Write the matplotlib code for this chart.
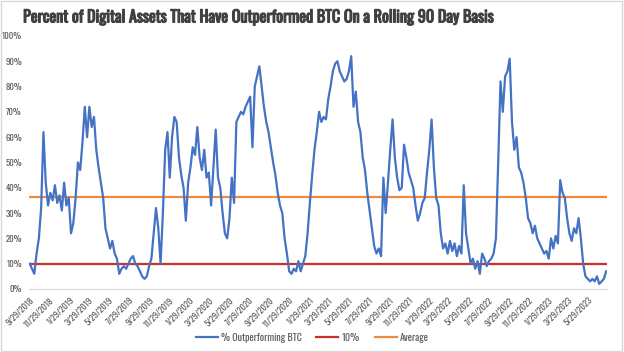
import pandas as pd
import matplotlib.pyplot as plt
import matplotlib.patheffects as pe
from matplotlib.lines import Line2D
from matplotlib.patches import Rectangle

# Weekly readings of the share of assets beating BTC (%), starting 9/29/2018
start_date = '2018-09-29'
pct_outperforming = [
    10, 8, 6, 14, 20, 32, 62, 42, 33, 38, 35, 41, 34, 37, 31, 42, 33, 36, 22, 26,
    36, 50, 47, 58, 72, 60, 72, 64, 68, 55, 48, 42, 36, 24, 20, 16, 19, 14, 12, 6,
    8, 9, 8, 10, 12, 13, 10, 9, 7, 5, 4, 5, 9, 12, 22, 32, 24, 10, 30, 55,
    62, 44, 60, 68, 66, 52, 45, 40, 27, 42, 48, 56, 53, 64, 52, 47, 55, 44, 46, 33,
    48, 63, 44, 40, 30, 22, 20, 28, 44, 34, 66, 68, 70, 69, 72, 74, 76, 56, 80, 84,
    88, 80, 72, 66, 62, 56, 50, 45, 38, 33, 30, 20, 14, 7, 6, 8, 7, 11, 7, 10,
    13, 22, 34, 45, 55, 62, 70, 66, 68, 67, 75, 80, 86, 89, 90, 86, 84, 82, 83, 86,
    92, 72, 78, 66, 62, 52, 47, 38, 31, 24, 17, 14, 16, 13, 44, 30, 42, 55, 67, 52,
    44, 39, 40, 57, 52, 46, 43, 40, 33, 27, 30, 34, 36, 46, 55, 67, 48, 36, 33, 22,
    16, 18, 14, 19, 15, 18, 13, 17, 14, 41, 22, 16, 10, 12, 8, 11, 6, 14, 12, 9,
    11, 12, 14, 20, 50, 82, 70, 84, 86, 91, 66, 55, 60, 48, 46, 42, 36, 28, 26, 22,
    25, 20, 18, 16, 14, 15, 12, 20, 16, 21, 18, 43, 38, 36, 28, 22, 19, 24, 22, 28,
    20, 10, 5, 4, 3, 4, 3, 5, 2, 3, 4, 7,
]
threshold_pct = 10
average_pct = 36.5

dates = pd.date_range(start=start_date, periods=len(pct_outperforming), freq='7D')
tick_dates = pd.date_range(start='2018-09-01', end='2023-05-01', freq='2MS') + pd.Timedelta(days=28)
tick_labels = [f"{d.month}/{d.day}/{d.year}" for d in tick_dates]

blue = '#4472C4'
red = '#C9302C'
orange = '#F08A3A'
text_gray = '#595959'
font = 'Oswald'

fig = plt.figure(figsize=(6.24, 3.52), dpi=100)
ax = fig.add_axes([0.0465, 0.179, 0.927, 0.719])

ax.plot(dates, pct_outperforming, color=blue, linewidth=1.6, label='% Outperforming BTC', zorder=3)
ax.axhline(threshold_pct, color=red, linewidth=1.6, label='10%', zorder=2)
ax.axhline(average_pct, color=orange, linewidth=1.6, label='Average', zorder=2)

ax.set_ylim(0, 100)
ax.set_yticks(range(0, 101, 10))
ax.set_yticklabels([f"{v}%" for v in range(0, 101, 10)], fontsize=6.3, color=text_gray, family=font)
ax.set_xlim(dates[0] - pd.Timedelta(days=2), dates[-1] + pd.Timedelta(days=4))
ax.set_xticks(tick_dates)
ax.set_xticklabels(tick_labels, rotation=45, ha='right', rotation_mode='anchor',
                   fontsize=6.3, color=text_gray, family=font)
ax.tick_params(axis='both', length=0, pad=5)

for side in ['top', 'right', 'left']:
    ax.spines[side].set_visible(False)
ax.spines['bottom'].set_color('#D9D9D9')

# Oswald here has only one weight, so a thin stroke stands in for bold
fig.text(0.037, 0.952, 'Percent of Digital Assets That Have Outperformed BTC On a Rolling 90 Day Basis',
         fontsize=11.6, color='#404040', family=font, va='center',
         path_effects=[pe.withStroke(linewidth=0.8, foreground='#404040')])

handles = [Line2D([], [], color=c, linewidth=1.6) for c in (blue, red, orange)]
fig.legend(handles, ['% Outperforming BTC', '10%', 'Average'], loc='center',
           bbox_to_anchor=(0.5, 0.04), ncol=3, frameon=False, handlelength=2.2,
           columnspacing=1.5, handletextpad=0.3, prop={'family': font, 'size': 7.2},
           labelcolor=text_gray)

fig.patches.append(Rectangle((0.002, 0.003), 0.995, 0.994, transform=fig.transFigure,
                             fill=False, edgecolor='#D9D9D9', linewidth=1))

fig.savefig('out.png', dpi=100)
